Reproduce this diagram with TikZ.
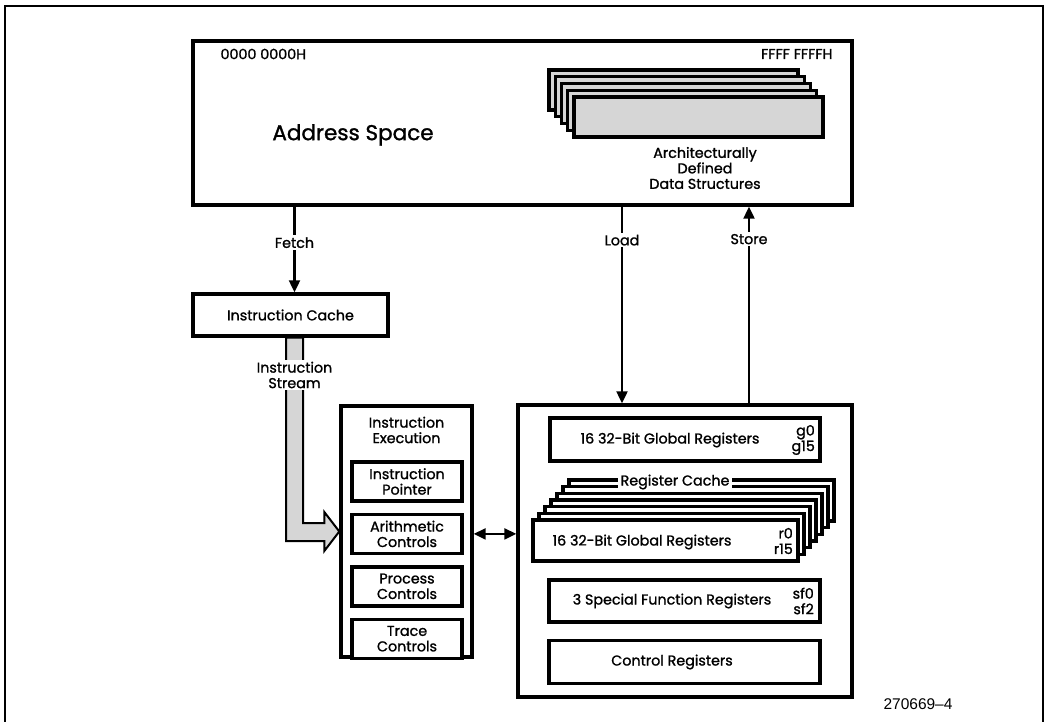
\documentclass[tikz,border=0pt]{standalone}
\usepackage{fontspec}
\setmainfont{Poppins}[FakeBold=1.2]
\newfontfamily\fignumfont{Liberation Sans}
\usetikzlibrary{arrows.meta,positioning,calc}

\begin{document}
\begin{tikzpicture}[x=1pt, y=-1pt, font=\fontsize{14.3}{15.5}\selectfont,
    box/.style={draw, line width=3.4pt, fill=white, inner sep=0pt, align=center},
    tag/.style={fill=white, inner sep=2pt, align=center},
    arr/.style={line width=2.2pt, -{Triangle[length=12pt,width=11pt]}},
    dblarr/.style={line width=2.2pt, {Triangle[length=12pt,width=11pt]}-{Triangle[length=12pt,width=11pt]}},
    stream/.style={line width=2pt, fill=black!16, line join=miter},
    shade/.style={fill=black!16}]
    \useasboundingbox (0,0) rectangle (1046,722);
    % outer frame
    \draw[line width=1.6pt] (5,722) -- (5,6) -- (1043,6) -- (1043,722);

    % address space
    \node[box, minimum width=659, minimum height=164] (addr) at (522.5,123) {};
    \node[anchor=west] (lo) at (217,54) {0000 0000H};
    \node[anchor=east] (hi) at (836,54) {FFFF FFFFH};
    \node[font=\fontsize{21.5}{24}\selectfont] (aspace) at (353,135) {Address Space};
    \foreach \i in {4,...,0}
        \node[box, shade, minimum width=249, minimum height=40] (ds\i) at (698.5-6.25*\i,117-6.75*\i) {};
    \node[align=center] (dstext) at (705,168) {Architecturally\\Defined\\Data Structures};

    % instruction cache and stream
    \node[box, minimum width=195, minimum height=42] (icache) at (290.5,315) {Instruction Cache};
    \coordinate (fx) at ($(icache.north)+(4,0)$);
    \draw[arr] (fx |- addr.south) -- node[tag, pos=0.42] (fetch) {Fetch} (fx);

    % instruction execution
    \node[box, minimum width=131, minimum height=251] (exec) at (406.5,531.5) {};
    \node[align=center] (extitle) at (406.5,430) {Instruction\\Execution};
    \node[box, minimum width=110, minimum height=39] (ip) at (407,481.5) {Instruction\\Pointer};
    \node[box, minimum width=110, minimum height=39, below=10pt of ip] (arith) {Arithmetic\\Controls};
    \node[box, minimum width=110, minimum height=39, below=10pt of arith] (proc) {Process\\Controls};
    \node[box, minimum width=110, minimum height=39, below=10pt of proc] (trace) {Trace\\Controls};

    \path (icache.south) ++(-4.5,0) coordinate (sa) ++(17,0) coordinate (sb);
    \coordinate (hb) at ($(exec.west)+(-15,9.5)$);
    \coordinate (ht) at ($(exec.west)+(-15,-8.5)$);
    \draw[stream] (sa) -- (sa |- hb) -- (hb) -- ($(exec.west)+(-15,19.5)$) -- (exec.west)
        -- ($(exec.west)+(-15,-19.5)$) -- (ht) -- (sb |- ht) -- (sb) -- cycle;
    \node[tag] (istream) at (294.5,375) {Instruction\\Stream};

    % registers
    \node[box, minimum width=334, minimum height=292] (reg) at (685,551) {};
    \draw[dblarr] (exec.east |- arith) -- (reg.west |- arith);
    \coordinate (ld) at (622,0);
    \coordinate (st) at (749,0);
    \draw[arr] (ld |- addr.south) -- node[tag, pos=0.17] (load) {Load} (ld |- reg.north);
    \draw[arr] (st |- reg.north) -- node[tag, pos=0.835] (store) {Store} (st |- addr.south);

    \node[box, minimum width=270, minimum height=43] (glob) at (685,439.5) {};
    \node (globtxt) at (670,440) {16 32-Bit Global Registers};
    \node[anchor=east, align=right, inner sep=0pt] (globrng) at (815,440) {g0\\g15};

    \foreach \i in {6,...,0}
        \node[box, minimum width=265, minimum height=41] (rc\i) at (665.5+6*\i,540.5-6.7*\i) {};
    \node[tag, inner sep=3pt] (rctitle) at (675,482) {Register Cache};
    \node (rctxt) at (642,542) {16 32-Bit Global Registers};
    \node[anchor=east, align=right, inner sep=0pt] (rcrng) at (793,541) {r0\\r15};

    \node[box, minimum width=271, minimum height=42] (sfr) at (684.5,601) {};
    \node (sfrtxt) at (672,601) {3 Special Function Registers};
    \node[anchor=east, align=right, inner sep=0pt] (sfrrng) at (814,601) {sf0\\sf2};

    \node[box, minimum width=271, minimum height=43] (ctrl) at (684.5,662) {};
    \node (ctrltxt) at (672,662) {Control Registers};

    \node[font=\fignumfont\fontsize{15.5}{18}\selectfont] (fignum) at (918,704) {270669–4};
\end{tikzpicture}
\end{document}
